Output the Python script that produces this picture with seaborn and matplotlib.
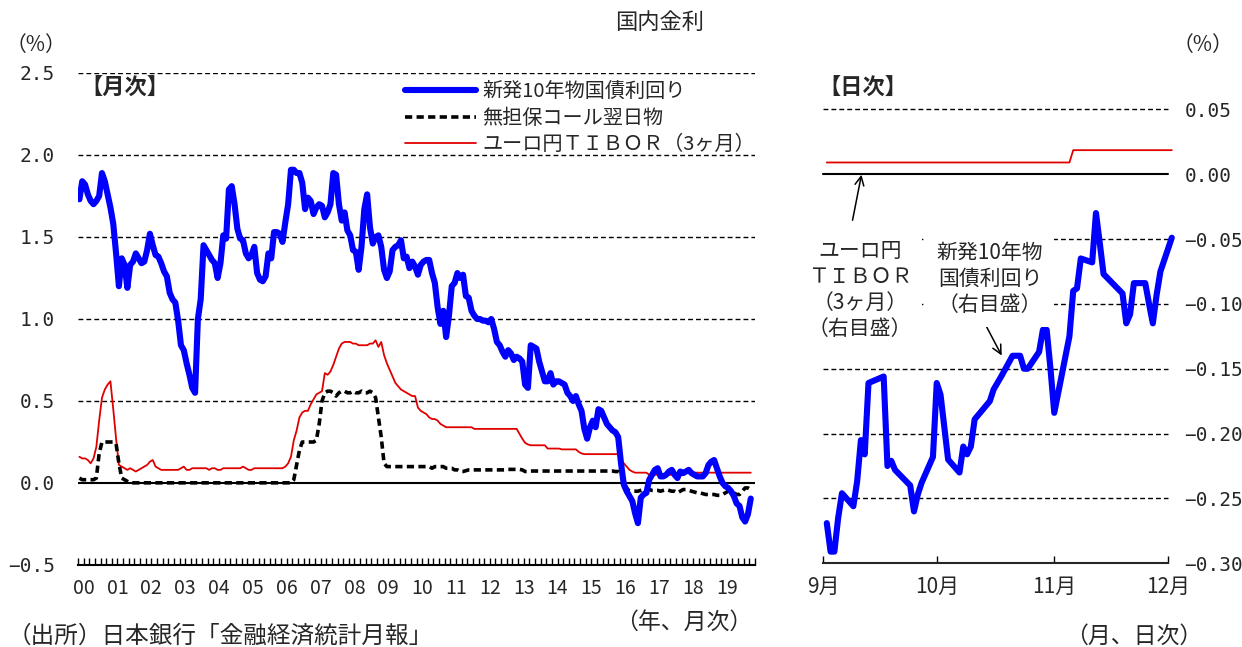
import numpy as np
import pandas as pd
import matplotlib
matplotlib.use("Agg")
import matplotlib.pyplot as plt
import seaborn as sns
from matplotlib import font_manager

# ---------------- data (monthly, Jan 2000 - Nov 2019) ----------------
month_start = "2000-01-01"
jgb_10y = [
    1.73, 1.84, 1.82, 1.76, 1.72, 1.70, 1.72, 1.75, 1.89, 1.84,
    1.76, 1.68, 1.58, 1.40, 1.20, 1.37, 1.33, 1.19, 1.33, 1.35,
    1.40, 1.37, 1.34, 1.35, 1.42, 1.52, 1.45, 1.39, 1.38, 1.34,
    1.29, 1.26, 1.16, 1.12, 1.10, 0.99, 0.84, 0.81, 0.73, 0.66,
    0.58, 0.55, 1.00, 1.12, 1.45, 1.42, 1.39, 1.36, 1.34, 1.25,
    1.34, 1.51, 1.49, 1.79, 1.81, 1.70, 1.55, 1.49, 1.48, 1.40,
    1.37, 1.39, 1.44, 1.28, 1.24, 1.23, 1.26, 1.40, 1.37, 1.53,
    1.53, 1.52, 1.47, 1.59, 1.70, 1.91, 1.91, 1.89, 1.89, 1.83,
    1.67, 1.74, 1.72, 1.64, 1.68, 1.70, 1.69, 1.62, 1.65, 1.70,
    1.89, 1.88, 1.70, 1.60, 1.65, 1.54, 1.51, 1.42, 1.41, 1.30,
    1.44, 1.67, 1.76, 1.56, 1.46, 1.50, 1.51, 1.44, 1.30, 1.25,
    1.29, 1.42, 1.44, 1.45, 1.48, 1.37, 1.38, 1.31, 1.35, 1.32,
    1.27, 1.33, 1.35, 1.36, 1.36, 1.28, 1.22, 1.07, 0.97, 1.05,
    0.89, 1.02, 1.20, 1.22, 1.28, 1.25, 1.27, 1.14, 1.13, 1.05,
    1.02, 1.00, 1.00, 0.99, 0.99, 0.98, 1.00, 0.94, 0.86, 0.84,
    0.80, 0.77, 0.81, 0.79, 0.75, 0.77, 0.76, 0.74, 0.60, 0.58,
    0.84, 0.83, 0.82, 0.74, 0.68, 0.62, 0.62, 0.67, 0.60, 0.62,
    0.62, 0.61, 0.60, 0.55, 0.53, 0.50, 0.53, 0.48, 0.44, 0.33,
    0.27, 0.34, 0.38, 0.34, 0.45, 0.44, 0.40, 0.36, 0.34, 0.32,
    0.31, 0.28, 0.12, -0.01, -0.05, -0.08, -0.11, -0.185, -0.245, -0.09,
    -0.07, -0.06, 0.02, 0.05, 0.08, 0.09, 0.04, 0.04, 0.05, 0.07,
    0.08, 0.05, 0.03, 0.07, 0.06, 0.07, 0.08, 0.06, 0.05, 0.04,
    0.04, 0.04, 0.06, 0.11, 0.13, 0.14, 0.09, 0.04, 0.00, -0.02,
    -0.03, -0.05, -0.08, -0.125, -0.14, -0.21, -0.235, -0.19, -0.095,
]
call_rate = [
    0.03, 0.02, 0.02, 0.02, 0.02, 0.02, 0.03, 0.18, 0.25, 0.25,
    0.25, 0.25, 0.25, 0.24, 0.12, 0.03, 0.02, 0.01, 0.002, 0.001,
    0.001, 0.001, 0.001, 0.001, 0.001, 0.001, 0.001, 0.001, 0.001, 0.001,
    0.001, 0.001, 0.001, 0.001, 0.001, 0.001, 0.001, 0.001, 0.001, 0.001,
    0.001, 0.001, 0.001, 0.001, 0.001, 0.001, 0.001, 0.001, 0.001, 0.001,
    0.001, 0.001, 0.001, 0.001, 0.001, 0.001, 0.001, 0.001, 0.001, 0.001,
    0.001, 0.001, 0.001, 0.001, 0.001, 0.001, 0.001, 0.001, 0.001, 0.001,
    0.001, 0.001, 0.001, 0.001, 0.001, 0.002, 0.02, 0.11, 0.20, 0.25,
    0.25, 0.25, 0.25, 0.25, 0.26, 0.36, 0.50, 0.55, 0.56, 0.56,
    0.55, 0.53, 0.55, 0.56, 0.56, 0.55, 0.55, 0.56, 0.55, 0.55,
    0.56, 0.55, 0.55, 0.56, 0.55, 0.52, 0.40, 0.28, 0.12, 0.10,
    0.10, 0.10, 0.10, 0.10, 0.10, 0.10, 0.10, 0.10, 0.10, 0.10,
    0.10, 0.10, 0.10, 0.10, 0.10, 0.09, 0.10, 0.10, 0.10, 0.10,
    0.09, 0.09, 0.09, 0.08, 0.08, 0.07, 0.07, 0.075, 0.08, 0.08,
    0.08, 0.08, 0.08, 0.08, 0.08, 0.08, 0.08, 0.08, 0.08, 0.08,
    0.08, 0.08, 0.083, 0.083, 0.083, 0.083, 0.083, 0.08, 0.07, 0.07,
    0.073, 0.073, 0.073, 0.073, 0.073, 0.073, 0.073, 0.073, 0.073, 0.073,
    0.073, 0.073, 0.073, 0.073, 0.073, 0.073, 0.073, 0.073, 0.073, 0.073,
    0.073, 0.073, 0.073, 0.073, 0.073, 0.073, 0.073, 0.073, 0.073, 0.073,
    0.07, 0.07, 0.06, 0.01, -0.03, -0.05, -0.05, -0.05, -0.05, -0.045,
    -0.04, -0.04, -0.04, -0.045, -0.045, -0.045, -0.05, -0.045, -0.04, -0.045,
    -0.05, -0.05, -0.06, -0.05, -0.04, -0.04, -0.045, -0.05, -0.055, -0.06,
    -0.06, -0.065, -0.07, -0.07, -0.07, -0.07, -0.075, -0.075, -0.07, -0.06,
    -0.05, -0.05, -0.06, -0.07, -0.07, -0.05, -0.03, -0.03, -0.04,
]
tibor_3m = [
    0.16, 0.15, 0.15, 0.14, 0.12, 0.15, 0.22, 0.38, 0.52, 0.57,
    0.60, 0.62, 0.45, 0.27, 0.11, 0.10, 0.09, 0.08, 0.09, 0.08,
    0.07, 0.08, 0.09, 0.10, 0.11, 0.13, 0.14, 0.10, 0.09, 0.08,
    0.08, 0.08, 0.08, 0.08, 0.08, 0.08, 0.09, 0.10, 0.08, 0.08,
    0.09, 0.09, 0.09, 0.09, 0.09, 0.09, 0.08, 0.09, 0.09, 0.08,
    0.08, 0.09, 0.09, 0.09, 0.09, 0.09, 0.09, 0.09, 0.10, 0.09,
    0.08, 0.08, 0.09, 0.09, 0.09, 0.09, 0.09, 0.09, 0.09, 0.09,
    0.09, 0.09, 0.09, 0.10, 0.12, 0.16, 0.26, 0.32, 0.40, 0.43,
    0.44, 0.44, 0.48, 0.51, 0.54, 0.55, 0.56, 0.67, 0.66, 0.68,
    0.72, 0.77, 0.82, 0.85, 0.86, 0.86, 0.86, 0.85, 0.85, 0.84,
    0.84, 0.84, 0.84, 0.85, 0.85, 0.87, 0.83, 0.86, 0.78, 0.73,
    0.69, 0.65, 0.61, 0.59, 0.57, 0.56, 0.55, 0.54, 0.53, 0.53,
    0.46, 0.44, 0.43, 0.42, 0.40, 0.39, 0.39, 0.38, 0.36, 0.35,
    0.34, 0.34, 0.34, 0.34, 0.34, 0.34, 0.34, 0.34, 0.34, 0.34,
    0.33, 0.33, 0.33, 0.33, 0.33, 0.33, 0.33, 0.33, 0.33, 0.33,
    0.33, 0.33, 0.33, 0.33, 0.33, 0.33, 0.30, 0.27, 0.245, 0.235,
    0.23, 0.23, 0.23, 0.23, 0.23, 0.23, 0.21, 0.21, 0.21, 0.21,
    0.21, 0.205, 0.205, 0.205, 0.205, 0.205, 0.205, 0.19, 0.18, 0.176,
    0.176, 0.176, 0.176, 0.176, 0.176, 0.176, 0.176, 0.176, 0.176, 0.176,
    0.176, 0.176, 0.14, 0.12, 0.10, 0.08, 0.07, 0.063, 0.063, 0.063,
    0.063, 0.063, 0.05, 0.05, 0.05, 0.05, 0.05, 0.05, 0.05, 0.05,
    0.05, 0.05, 0.05, 0.05, 0.063, 0.063, 0.063, 0.063, 0.063, 0.063,
    0.063, 0.063, 0.063, 0.063, 0.063, 0.063, 0.063, 0.063, 0.063, 0.063,
    0.063, 0.063, 0.063, 0.063, 0.063, 0.063, 0.063, 0.063, 0.063,
]
year_labels = ["00", "01", "02", "03", "04", "05", "06", "07", "08", "09",
               "10", "11", "12", "13", "14", "15", "16", "17", "18", "19"]
left_yticks = [-0.5, 0.0, 0.5, 1.0, 1.5, 2.0, 2.5]
left_ylabels = ["\u22120.5", "0.0", "0.5", "1.0", "1.5", "2.0", "2.5"]

# ---------------- data (daily, Sep - Dec 2019) ----------------
daily_dates = [
    "2019-09-02", "2019-09-03", "2019-09-04", "2019-09-05", "2019-09-06",
    "2019-09-09", "2019-09-10", "2019-09-11", "2019-09-12", "2019-09-13",
    "2019-09-17", "2019-09-18", "2019-09-19", "2019-09-20",
    "2019-09-24", "2019-09-25", "2019-09-26", "2019-09-27", "2019-09-30",
    "2019-10-01", "2019-10-02", "2019-10-03", "2019-10-04",
    "2019-10-07", "2019-10-08", "2019-10-09", "2019-10-10", "2019-10-11",
    "2019-10-15", "2019-10-16", "2019-10-17", "2019-10-18",
    "2019-10-21", "2019-10-23", "2019-10-24", "2019-10-25",
    "2019-10-28", "2019-10-29", "2019-10-30", "2019-10-31",
    "2019-11-01", "2019-11-05", "2019-11-06", "2019-11-07", "2019-11-08",
    "2019-11-11", "2019-11-12", "2019-11-13", "2019-11-14", "2019-11-15",
    "2019-11-18", "2019-11-19", "2019-11-20", "2019-11-21", "2019-11-22",
    "2019-11-25", "2019-11-26", "2019-11-27", "2019-11-28", "2019-11-29",
    "2019-12-02",
]
jgb_daily = [
    -0.269, -0.291, -0.291, -0.265, -0.246,
    -0.256, -0.237, -0.205, -0.216, -0.161,
    -0.156, -0.225, -0.221, -0.228,
    -0.240, -0.260, -0.247, -0.238, -0.218,
    -0.161, -0.170, -0.195, -0.220,
    -0.230, -0.210, -0.216, -0.210, -0.189,
    -0.175, -0.166, -0.161, -0.156,
    -0.140, -0.140, -0.150, -0.150,
    -0.137, -0.120, -0.120, -0.150,
    -0.184, -0.125, -0.090, -0.088, -0.065,
    -0.068, -0.030, -0.053, -0.077, -0.080,
    -0.089, -0.092, -0.115, -0.108, -0.084,
    -0.084, -0.100, -0.115, -0.093, -0.075,
    -0.049,
]
tibor_daily = [
    0.009, 0.009, 0.009, 0.009, 0.009,
    0.009, 0.009, 0.009, 0.009, 0.009,
    0.009, 0.009, 0.009, 0.009,
    0.009, 0.009, 0.009, 0.009, 0.009,
    0.009, 0.009, 0.009, 0.009,
    0.009, 0.009, 0.009, 0.009, 0.009,
    0.009, 0.009, 0.009, 0.009,
    0.009, 0.009, 0.009, 0.009,
    0.009, 0.009, 0.009, 0.009,
    0.009, 0.009, 0.0185, 0.0185, 0.0185,
    0.0185, 0.0185, 0.0185, 0.0185, 0.0185,
    0.0185, 0.0185, 0.0185, 0.0185, 0.0185,
    0.0185, 0.0185, 0.0185, 0.0185, 0.0185,
    0.0185,
]
month_ticks = ["2019-09-01", "2019-10-01", "2019-11-01", "2019-12-01"]
month_labels = ["9月", "10月", "11月", "12月"]
right_yticks = [-0.30, -0.25, -0.20, -0.15, -0.10, -0.05, 0.00, 0.05]
right_ylabels = ["\u22120.30", "\u22120.25", "\u22120.20", "\u22120.15",
                 "\u22120.10", "\u22120.05", "0.00", "0.05"]

series_names = ["新発10年物国債利回り", "無担保コール翌日物", "ユーロ円ＴＩＢＯＲ（3ヶ月）"]

# ---------------- style ----------------
sns.set_style("white")
plt.rcParams['font.family'] = ['Noto Sans CJK JP', 'DejaVu Sans']
plt.rcParams['axes.unicode_minus'] = True
names = {f.name for f in font_manager.fontManager.ttflist}
narrow = 'Liberation Sans Narrow' if 'Liberation Sans Narrow' in names else 'Noto Sans CJK JP'
MONO = ['DejaVu Sans Mono', 'DejaVu Sans']

BLUE = "#0000FF"
RED = "#E00000"
W, H = 1242, 647
fig = plt.figure(figsize=(W / 100, H / 100), dpi=100)
fig.patch.set_facecolor("white")


def fpos(x, y):
    return (x / W, 1 - y / H)


grid_kw = dict(color="black", lw=1.0, ls=(0, (3.5, 2.2)), zorder=1)
CALL_DASH = (0, (2.0, 1.2))

# ---------------- left (monthly) panel ----------------
ax1 = fig.add_axes([78 / W, 1 - 565 / H, 677 / W, 492 / H])
n = len(jgb_10y)
dfm = pd.DataFrame({
    "date": pd.date_range(month_start, periods=n, freq="MS"),
    "jgb": jgb_10y, "call": call_rate, "tibor": tibor_3m,
})
dfm["pos"] = np.arange(n) + 0.5

for v in [0.5, 1.0, 1.5, 2.0, 2.5]:
    ax1.axhline(v, **grid_kw)
ax1.axhline(0.0, color="black", lw=1.5, zorder=1)

sns.lineplot(data=dfm, x="pos", y="tibor", ax=ax1, color=RED, lw=1.3,
             label=series_names[2], zorder=3)
sns.lineplot(data=dfm, x="pos", y="call", ax=ax1, color="black", lw=2.6,
             linestyle=CALL_DASH, label=series_names[1], zorder=4)
sns.lineplot(data=dfm, x="pos", y="jgb", ax=ax1, color=BLUE, lw=4.4,
             label=series_names[0], zorder=5)

ax1.set_xlim(0, 240)
ax1.set_ylim(-0.5, 2.5)
ax1.set_xlabel("")
ax1.set_ylabel("")
for s in ["left", "right", "top"]:
    ax1.spines[s].set_visible(False)
ax1.spines["bottom"].set_color("black")
ax1.spines["bottom"].set_linewidth(1.5)
ax1.xaxis.remove_overlapping_locs = False
ax1.set_xticks(np.arange(0, 241, 2))
ax1.set_xticklabels([])
ax1.tick_params(axis="x", which="major", bottom=True, direction="in",
                length=5, width=1, color="black")
ax1.set_xticks(np.arange(len(year_labels)) * 12 + 2.0, minor=True)
ax1.set_xticklabels(year_labels, minor=True, fontsize=14, family=[narrow, 'DejaVu Sans'])
ax1.tick_params(axis="x", which="minor", bottom=True, length=0, pad=9)
ax1.set_yticks(left_yticks)
ax1.set_yticklabels(left_ylabels, fontsize=14, family=MONO)
ax1.tick_params(axis="y", length=0, pad=16.5)

h, l = ax1.get_legend_handles_labels()
order = [series_names.index(x) for x in l]
hl = sorted(zip(order, h, l))
ax1.legend([x[1] for x in hl], [x[2] for x in hl], loc="upper left",
           bbox_to_anchor=((397 - 78) / 677, 1.0), frameon=False, fontsize=14.5,
           handlelength=3.5, handletextpad=0.35, labelspacing=0.28, borderaxespad=0)

# ---------------- right (daily) panel ----------------
ax2 = fig.add_axes([823 / W, 1 - 563.3 / H, 345 / W, 454 / H])
dfd = pd.DataFrame({"date": pd.to_datetime(daily_dates),
                    "jgb": jgb_daily, "tibor": tibor_daily})
for v in [0.05, -0.05, -0.10, -0.15, -0.20, -0.25]:
    ax2.axhline(v, **grid_kw)
ax2.axhline(0.0, color="black", lw=1.5, zorder=1)
sns.lineplot(data=dfd, x="date", y="tibor", ax=ax2, color=RED, lw=1.3, zorder=3)
sns.lineplot(data=dfd, x="date", y="jgb", ax=ax2, color=BLUE, lw=4.4, zorder=5)
for ln in ax2.lines:
    ln.set_clip_on(False)
ax2.set_xlim(pd.Timestamp("2019-09-01"), pd.Timestamp("2019-12-01"))
ax2.set_ylim(-0.30, 0.05)
ax2.set_xlabel("")
ax2.set_ylabel("")
for s in ["left", "right", "top"]:
    ax2.spines[s].set_visible(False)
ax2.spines["bottom"].set_linewidth(1.5)
ax2.set_xticks(pd.to_datetime(month_ticks))
ax2.set_xticklabels(month_labels, fontsize=15)
ax2.tick_params(axis="x", bottom=True, direction="in", length=5, width=1, pad=9, color="black")
ax2.yaxis.tick_right()
ax2.set_yticks(right_yticks)
ax2.set_yticklabels(right_ylabels, fontsize=14, family=MONO)
ax2.tick_params(axis="y", length=0, pad=12)

# ---------------- texts ----------------
fig.text(*fpos(660, 22), "国内金利", ha="center", va="center", fontsize=16)
fig.text(*fpos(36, 45), "（%）", ha="center", va="center", fontsize=15)
fig.text(*fpos(1203, 45), "（%）", ha="center", va="center", fontsize=15)
fig.text(*fpos(80, 88), "【月次】", ha="left", va="center", fontsize=16, fontweight="bold")
fig.text(*fpos(818, 88), "【日次】", ha="left", va="center", fontsize=16, fontweight="bold")
fig.text(*fpos(8, 636), "（出所）日本銀行「金融経済統計月報」", ha="left", va="center", fontsize=17)
fig.text(*fpos(752, 622), "（年、月次）", ha="right", va="center", fontsize=16.5)
fig.text(*fpos(1202, 636), "（月、日次）", ha="right", va="center", fontsize=16.5)

fig.text(*fpos(860, 290), "ユーロ円\nＴＩＢＯＲ\n（3ヶ月）\n（右目盛）", ha="center", va="center",
         fontsize=15, linespacing=1.25,
         bbox=dict(facecolor="white", edgecolor="none", pad=7))
fig.text(*fpos(990, 279), "新発10年物\n国債利回り\n（右目盛）", ha="center", va="center",
         fontsize=15, linespacing=1.25,
         bbox=dict(facecolor="white", edgecolor="none", pad=8))
ax2.annotate("", xy=fpos(862, 172), xycoords="figure fraction",
             xytext=fpos(852, 223), textcoords="figure fraction",
             arrowprops=dict(arrowstyle="->", color="black", lw=1.1, mutation_scale=16))
ax2.annotate("", xy=fpos(1003, 358), xycoords="figure fraction",
             xytext=fpos(983, 320), textcoords="figure fraction",
             arrowprops=dict(arrowstyle="->", color="black", lw=1.1, mutation_scale=16))

fig.savefig("out.png", dpi=100, facecolor="white")
